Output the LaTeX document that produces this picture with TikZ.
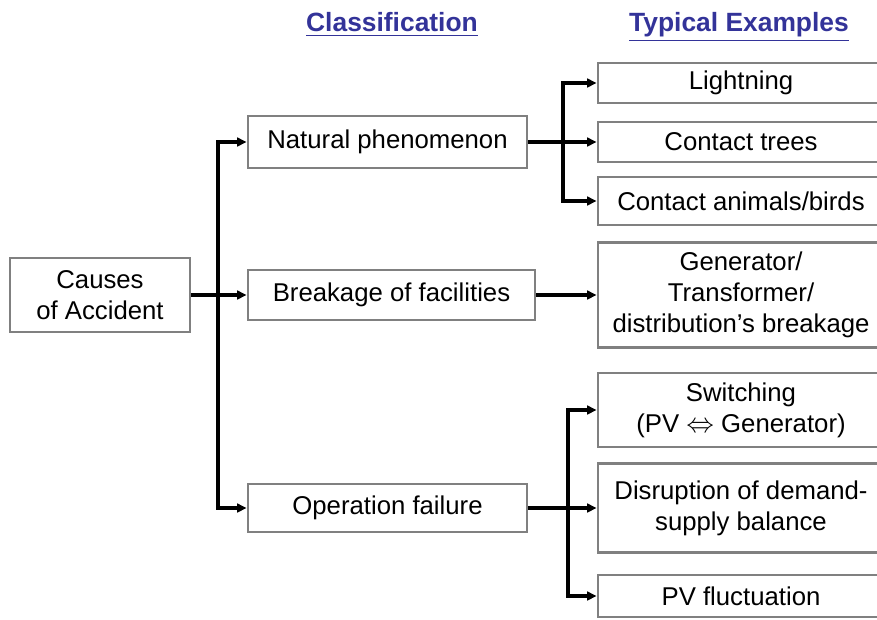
\documentclass[tikz,border=0pt]{standalone}
\usepackage{amsmath}
\usepackage{fontspec}
\setmainfont{Liberation Sans}
\usetikzlibrary{arrows.meta}

\definecolor{headblue}{RGB}{51,51,153}
\definecolor{boxgray}{RGB}{128,128,128}

\tikzset{
  box/.style={draw=boxgray, line width=2.2pt, fill=white, align=center, inner sep=0pt,
    font=\fontsize{19.3}{23.5}\selectfont},
  wire/.style={line width=2.3pt},
  link/.style={wire, -{Triangle[length=7pt,width=6.5pt]}},
  head/.style={anchor=base, text=headblue, font=\fontsize{19.8}{24}\selectfont\bfseries}
}

\begin{document}
\begin{tikzpicture}[x=0.75pt,y=0.75pt,yscale=-1,xscale=1]
\clip (0,0) rectangle (877,619);

% column headings
\node[head] (classHead) at (392,31) {\underline{Classification}};
\node[head] (exampleHead) at (739,31) {\underline{Typical Examples}};

% root
\node[box, minimum width=135pt, minimum height=55.5pt] (causes) at (100,295) {Causes\\of Accident};

% classification
\node[box, minimum width=209.25pt, minimum height=39pt] (natural) at (387.5,142) {Natural phenomenon};
\node[box, minimum width=215.25pt, minimum height=37.5pt] (breakage) at (391.5,295) {Breakage of facilities};
\node[box, minimum width=209.25pt, minimum height=36pt] (operation) at (387.5,508) {Operation failure};

% typical examples
\node[box, minimum width=214.5pt, minimum height=30pt] (lightning) at (741,83) {Lightning};
\node[box, minimum width=214.5pt, minimum height=30pt] (trees) at (741,142) {Contact trees};
\node[box, minimum width=214.5pt, minimum height=36pt] (animals) at (741,201) {Contact animals/birds};
\node[box, minimum width=214.5pt, minimum height=78.75pt] (facility) at (741,295) {Generator/\\Transformer/\\distribution’s breakage};
\node[box, minimum width=214.5pt, minimum height=55.5pt] (switching) at (741,410) {Switching\\(PV $\Leftrightarrow$ Generator)};
\node[box, minimum width=214.5pt, minimum height=66.75pt] (balance) at (741,508) {Disruption of demand-\\supply balance};
\node[box, minimum width=214.5pt, minimum height=31.5pt] (pvfluct) at (741,596) {PV fluctuation};

% branch points
\coordinate (rootFork) at (218,295);
\coordinate (naturalFork) at (563,142);
\coordinate (operationFork) at (568,508);

% root to classification
\draw[link] (causes) -- (breakage);
\draw[link] (rootFork) |- (natural.west);
\draw[link] (rootFork) |- (operation.west);

% classification to examples
\draw[wire] (natural) -- (naturalFork);
\draw[link] (naturalFork) |- (lightning.west);
\draw[link] (naturalFork) -- (trees.west);
\draw[link] (naturalFork) |- (animals.west);

\draw[link] (breakage) -- (facility);

\draw[wire] (operation) -- (operationFork);
\draw[link] (operationFork) |- (switching.west);
\draw[link] (operationFork) -- (balance.west);
\draw[link] (operationFork) |- (pvfluct.west);
\end{tikzpicture}
\end{document}
